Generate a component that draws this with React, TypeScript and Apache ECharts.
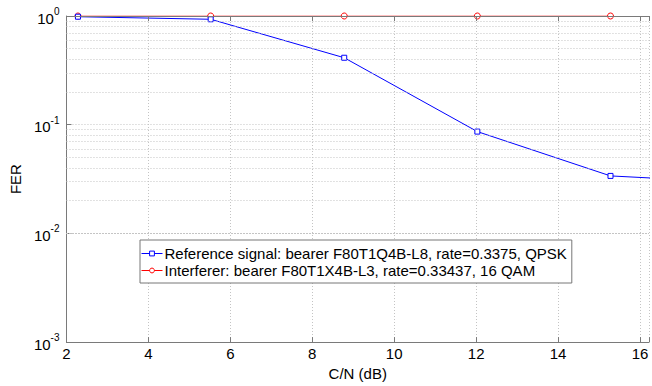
import React, { useEffect, useRef } from "react";
import * as echarts from "echarts";

const xRef = [2.28, 5.52, 8.78, 12.03, 15.28, 18.53];
const yRef = [0.985, 0.933, 0.413, 0.0864, 0.0338, 0.0292];
const xInt = [2.28, 5.52, 8.78, 12.03, 15.28];
const yInt = [1.0, 1.0, 1.0, 1.0, 1.0];
const minorLevels = [
  0.002, 0.003, 0.004, 0.005, 0.006, 0.007, 0.008, 0.009,
  0.02, 0.03, 0.04, 0.05, 0.06, 0.07, 0.08, 0.09,
  0.2, 0.3, 0.4, 0.5, 0.6, 0.7, 0.8, 0.9,
];
const refName = "Reference signal: bearer F80T1Q4B-L8, rate=0.3375, QPSK";
const intName = "Interferer: bearer F80T1X4B-L3, rate=0.33437, 16 QAM";

const FONT = "Liberation Sans, Arial, Helvetica, sans-serif";
const AXIS = "#7a7a7a";
const GRID = "#c4c4c4";
const FS = 15;
const BLUE = "#0000ff";
const RED = "#ff0000";

export default function App() {
  const ref = useRef<HTMLDivElement>(null);
  useEffect(() => {
    if (!ref.current) return;
    const chart = echarts.init(ref.current, null, { renderer: "svg" });
    chart.setOption({
      animation: false,
      backgroundColor: "#fff",
      textStyle: { fontFamily: FONT },
      grid: { left: 60, right: 0, top: 16, bottom: 39, containLabel: false },
      legend: {
        data: [
          {
            name: refName,
            itemStyle: { color: "#fff", borderColor: BLUE, borderWidth: 1 },
            lineStyle: { color: BLUE, width: 1 },
          },
          {
            name: intName,
            itemStyle: { color: "#fff", borderColor: RED, borderWidth: 1 },
            lineStyle: { color: RED, width: 1 },
          },
        ],
        orient: "vertical",
        left: 140,
        top: 240,
        backgroundColor: "#fff",
        borderColor: "#777",
        borderWidth: 1,
        borderRadius: 0,
        padding: [6, 5, 5, 1],
        itemGap: 2,
        itemWidth: 21,
        itemHeight: 6,
        textStyle: { fontSize: FS, color: "#000", fontFamily: FONT, padding: [0, 0, 0, -3] },
      },
      xAxis: [
        {
          type: "value",
          min: 2,
          max: 16.22,
          interval: 2,
          name: "C/N (dB)",
          nameLocation: "middle",
          nameGap: 22,
          nameTextStyle: { fontSize: FS, color: "#000", fontFamily: FONT },
          axisLine: { show: true, lineStyle: { color: AXIS, width: 1 } },
          axisTick: { show: true, inside: true, length: 5, lineStyle: { color: AXIS } },
          axisLabel: {
            fontSize: FS,
            color: "#000",
            margin: 4,
            fontFamily: FONT,
            formatter: (v: number) => (Math.abs(v - Math.round(v)) < 1e-6 && Math.round(v) % 2 === 0 ? String(Math.round(v)) : ""),
          },
          splitLine: { show: true, lineStyle: { color: GRID, type: [1, 2], width: 1 } },
        },
        {
          type: "value",
          position: "top",
          min: 2,
          max: 16.22,
          interval: 2,
          z: 10,
          axisLine: { show: true, onZero: false, lineStyle: { color: AXIS, width: 1 } },
          axisTick: { show: true, inside: true, length: 5, lineStyle: { color: AXIS } },
          axisLabel: { show: false },
          splitLine: { show: false },
        },
      ],
      yAxis: {
        type: "log",
        logBase: 10,
        min: 0.001,
        max: 1,
        name: "FER",
        nameLocation: "middle",
        nameGap: 25,
        nameTextStyle: { fontSize: FS, color: "#000", fontFamily: FONT },
        axisLine: { show: true, lineStyle: { color: AXIS, width: 1 } },
        axisTick: { show: true, inside: true, length: 5, lineStyle: { color: AXIS } },
        axisLabel: {
          margin: 7,
          formatter: (v: number) => {
            const e = Math.round(Math.log10(v));
            return `{b|10}{e|${e}}`;
          },
          rich: {
            b: { fontSize: FS, color: "#000", fontFamily: FONT, lineHeight: 19, verticalAlign: "bottom" },
            e: { fontSize: 10, color: "#000", fontFamily: FONT, lineHeight: 12, verticalAlign: "top" },
          },
        },
        splitLine: { show: true, lineStyle: { color: GRID, type: [1, 2], width: 1 } },
      },
      series: [
        {
          name: "minor",
          type: "line",
          data: [],
          z: 1,
          silent: true,
          markLine: {
            silent: true,
            symbol: "none",
            label: { show: false },
            lineStyle: { color: GRID, type: [1, 2], width: 1 },
            emphasis: { disabled: true },
            data: minorLevels.map((v) => ({ yAxis: v })),
          },
        },
        {
          name: intName,
          type: "line",
          data: xInt.map((x, i) => [x, yInt[i]]),
          symbol: "circle",
          symbolSize: 6,
          showSymbol: true,
          itemStyle: { color: "#fff", borderColor: RED, borderWidth: 1 },
          lineStyle: { color: RED, width: 1 },
          color: RED,
          z: 3,
        },
        {
          name: refName,
          type: "line",
          data: xRef.map((x, i) => [x, yRef[i]]),
          symbol: "rect",
          symbolSize: 5,
          showSymbol: true,
          itemStyle: { color: "#fff", borderColor: BLUE, borderWidth: 1 },
          lineStyle: { color: BLUE, width: 1 },
          color: BLUE,
          z: 4,
          clip: true,
        },
      ],
    });
    return () => chart.dispose();
  }, []);
  return <div ref={ref} style={{ width: 652, height: 386, position: "absolute", left: 0, top: 0 }} />;
}
